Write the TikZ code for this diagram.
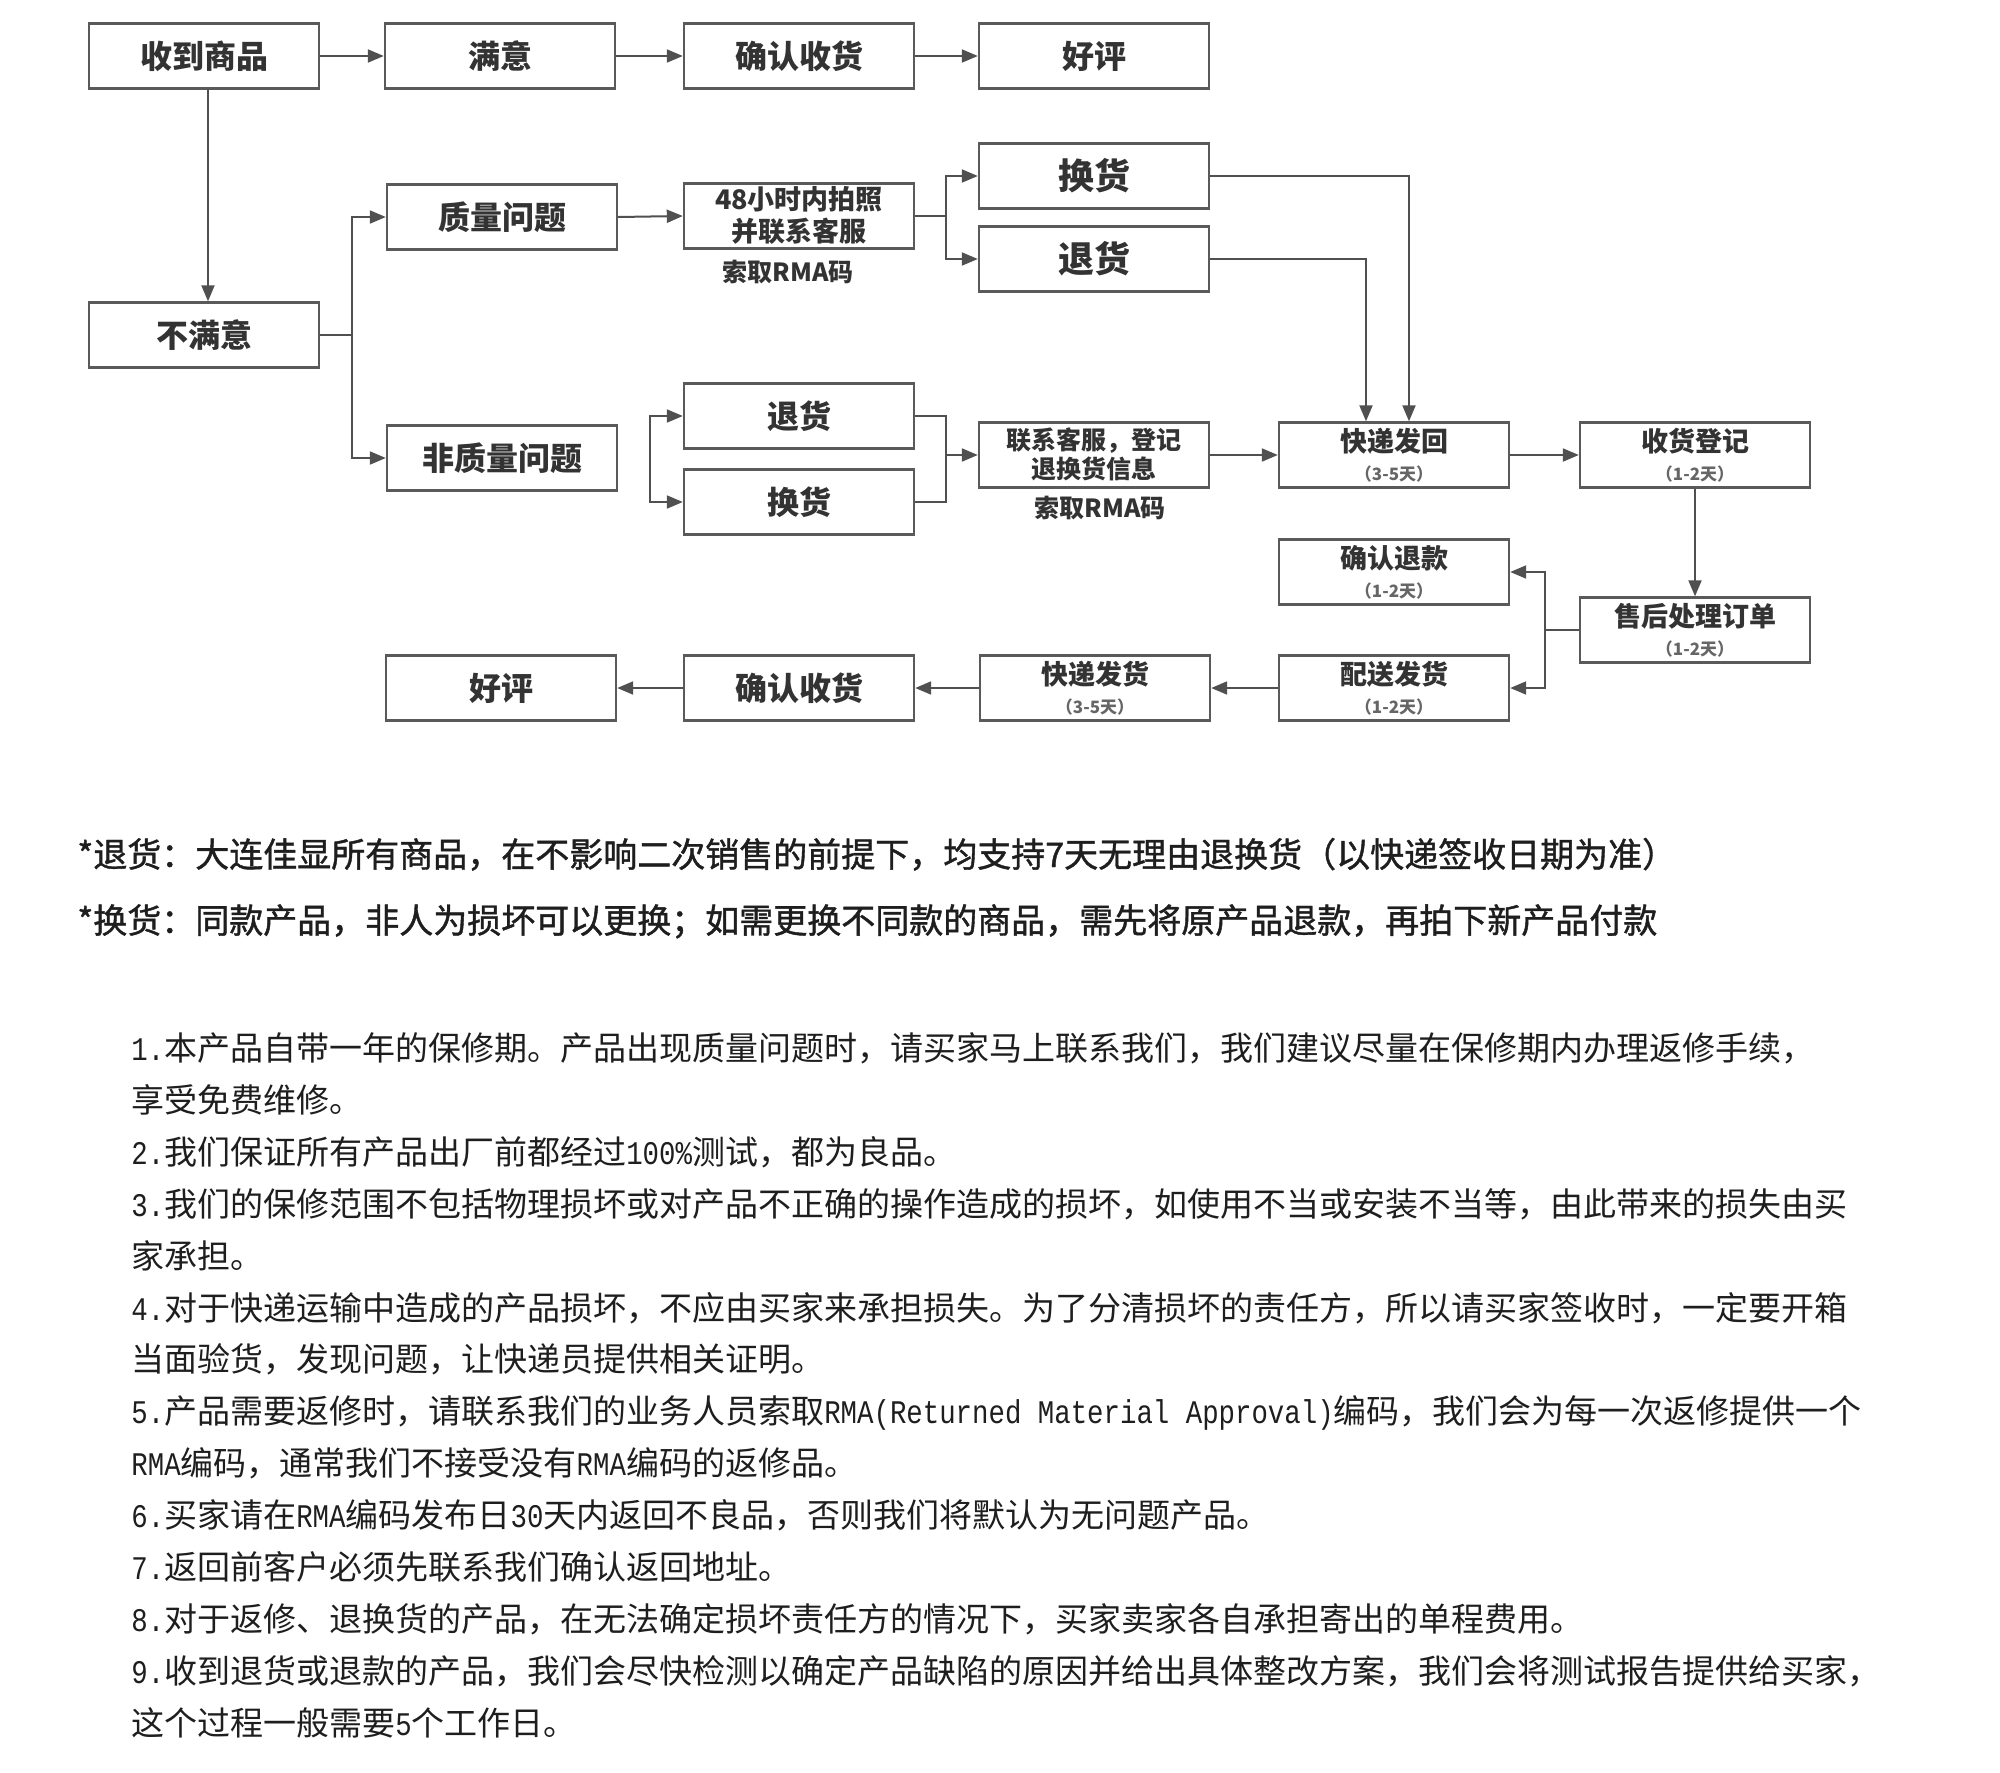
\documentclass[tikz,border=0pt]{standalone}
\usepackage{fontspec}
\setmainfont{Noto Sans CJK SC}
\newfontfamily\hei{Noto Sans CJK SC}
\newfontfamily\heim{Noto Sans CJK SC}[FakeBold=1.2]
\newfontfamily\latm{Liberation Mono}[FakeStretch=0.83]
\newcommand\ltn[1]{{\latm #1}}
\usetikzlibrary{arrows.meta}
\definecolor{bxcol}{HTML}{5A5A5A}
\definecolor{txcol}{HTML}{333333}
\definecolor{lncol}{HTML}{505050}
\definecolor{dycol}{HTML}{666666}
\definecolor{bodycol}{HTML}{1E1E1E}
\begin{document}
\begin{tikzpicture}[x=0.5pt,y=-0.5pt,
  box/.style={draw=bxcol, line width=1.2pt, minimum width=115pt, minimum height=32.5pt, inner sep=0pt, text=txcol, font=\hei\bfseries\fontsize{16pt}{18pt}\selectfont},
  bigbox/.style={box, font=\hei\bfseries\fontsize{18pt}{20pt}\selectfont},
  ttl/.style={inner sep=0pt, text=txcol, font=\hei\bfseries\fontsize{13.5pt}{15pt}\selectfont},
  smt/.style={inner sep=0pt, text=txcol, font=\hei\bfseries\fontsize{12.5pt}{14pt}\selectfont},
  dys/.style={inner sep=0pt, text=dycol, font=\hei\bfseries\fontsize{8.5pt}{10pt}\selectfont},
  wire/.style={draw=lncol, line width=1pt},
  arr/.style={wire, -{Triangle[length=8pt,width=6.5pt]}},
  star/.style={inner sep=0pt, anchor=base west, text=bodycol, font=\heim\fontsize{17pt}{20pt}\selectfont},
  body/.style={inner sep=0pt, anchor=base west, text=bodycol, font=\hei\fontsize{16.5pt}{20pt}\selectfont},
]
\fill[white] (0,0) rectangle (2000,1772);
\useasboundingbox (0,0) rectangle (2000,1772);

% ---------- boxes ----------
\node[box] (r1) at (204,56) {收到商品};
\node[box] (sat) at (500,56) {满意};
\node[box] (cf1) at (799,56) {确认收货};
\node[box] (gd1) at (1094,56) {\raisebox{-2pt}{好评}};
\node[box] (dis) at (204,335) {不满意};
\node[box] (qp) at (502,217) {质量问题};
\node[box] (p48) at (799,216) {};
\node[bigbox] (ex1) at (1094,176) {换货};
\node[bigbox] (rt1) at (1094,259) {退货};
\node[box] (nq) at (502,458) {非质量问题};
\node[box] (rt2) at (799,416) {退货};
\node[box] (ex2) at (799,502) {换货};
\node[box] (ct) at (1094,455) {};
\node[box] (bk) at (1394,455) {};
\node[box] (rg) at (1695,455) {};
\node[box] (rf) at (1394,572) {};
\node[box] (af) at (1695,630) {};
\node[box] (dl) at (1394,688) {};
\node[box] (sh) at (1095,688) {};
\node[box] (cf2) at (799,688) {确认收货};
\node[box] (gd2) at (501,688) {好评};

% ---------- texts inside boxes ----------
\node[ttl] (p48a) at (799,199) {48小时内拍照};
\node[ttl] (p48b) at (799,231) {并联系客服};
\node[smt] (cta) at (1094,441) {联系客服，登记};
\node[smt] (ctb) at (1094,469) {退换货信息};
\node[ttl] (bkT) at (1394,441) {快递发回};
\node[dys] (bkD) at (1394,474) {（3-5天）};
\node[ttl] (rgT) at (1695,441) {收货登记};
\node[dys] (rgD) at (1695,474) {（1-2天）};
\node[ttl] (rfT) at (1394,558) {确认退款};
\node[dys] (rfD) at (1394,591) {（1-2天）};
\node[ttl] (afT) at (1695,616) {售后处理订单};
\node[dys] (afD) at (1695,649) {（1-2天）};
\node[ttl] (dlT) at (1394,674) {配送发货};
\node[dys] (dlD) at (1394,707) {（1-2天）};
\node[ttl] (shT) at (1095,674) {快递发货};
\node[dys] (shD) at (1095,707) {（3-5天）};
\node[smt] (rma1) at (788,272) {索取RMA码};
\node[smt] (rma2) at (1100,508) {索取RMA码};

% ---------- junction points ----------
\coordinate (j1) at (352,335);
\coordinate (j2) at (946,216);
\coordinate (j3) at (650,459);
\coordinate (j4) at (946,455);
\coordinate (j5) at (1545,630);

% ---------- connectors ----------
\draw[arr] (r1.east) -- (sat.west);
\draw[arr] (sat.east) -- (cf1.west);
\draw[arr] (cf1.east) -- (gd1.west);
\draw[arr] ([xshift=2pt]r1.south) -- ([xshift=2pt]dis.north);
\draw[wire] (dis.east) -- (j1);
\draw[arr] (j1) |- (qp.west);
\draw[arr] (j1) |- (nq.west);
\draw[arr] (qp.east) -- (p48.west);
\draw[wire] (p48.east) -- (j2);
\draw[arr] (j2) |- (ex1.west);
\draw[arr] (j2) |- (rt1.west);
\draw[arr] (ex1.east) -| ([xshift=7.5pt]bk.north);
\draw[arr] (rt1.east) -| ([xshift=-14pt]bk.north);
\draw[arr] (j3) |- (rt2.west);
\draw[arr] (j3) |- (ex2.west);
\draw[wire] (rt2.east) -| (j4) |- (ex2.east);
\draw[arr] (j4) -- (ct.west);
\draw[arr] (ct.east) -- (bk.west);
\draw[arr] (bk.east) -- (rg.west);
\draw[arr] (rg.south) -- (af.north);
\draw[wire] (af.west) -- (j5);
\draw[arr] (j5) |- (rf.east);
\draw[arr] (j5) |- (dl.east);
\draw[arr] (dl.west) -- (sh.east);
\draw[arr] (sh.west) -- (cf2.east);
\draw[arr] (cf2.west) -- (gd2.east);

% ---------- notes ----------
\node[star] (s1) at (77,867) {*退货：大连佳显所有商品，在不影响二次销售的前提下，均支持7天无理由退换货（以快递签收日期为准）};
\node[star] (s2) at (77,933) {*换货：同款产品，非人为损坏可以更换；如需更换不同款的商品，需先将原产品退款，再拍下新产品付款};

\node[body] (l1a) at (131,1060.5) {\ltn{1.}本产品自带一年的保修期。产品出现质量问题时，请买家马上联系我们，我们建议尽量在保修期内办理返修手续，};
\node[body] (l1b) at (131,1112.4) {享受免费维修。};
\node[body] (l2) at (131,1164.3) {\ltn{2.}我们保证所有产品出厂前都经过\ltn{100\%}测试，都为良品。};
\node[body] (l3a) at (131,1216.2) {\ltn{3.}我们的保修范围不包括物理损坏或对产品不正确的操作造成的损坏，如使用不当或安装不当等，由此带来的损失由买};
\node[body] (l3b) at (131,1268.1) {家承担。};
\node[body] (l4a) at (131,1320) {\ltn{4.}对于快递运输中造成的产品损坏，不应由买家来承担损失。为了分清损坏的责任方，所以请买家签收时，一定要开箱};
\node[body] (l4b) at (131,1371.9) {当面验货，发现问题，让快递员提供相关证明。};
\node[body] (l5a) at (131,1423.8) {\ltn{5.}产品需要返修时，请联系我们的业务人员索取\ltn{RMA(Returned Material Approval)}编码，我们会为每一次返修提供一个};
\node[body] (l5b) at (131,1475.7) {\ltn{RMA}编码，通常我们不接受没有\ltn{RMA}编码的返修品。};
\node[body] (l6) at (131,1527.6) {\ltn{6.}买家请在\ltn{RMA}编码发布日\ltn{30}天内返回不良品，否则我们将默认为无问题产品。};
\node[body] (l7) at (131,1579.5) {\ltn{7.}返回前客户必须先联系我们确认返回地址。};
\node[body] (l8) at (131,1631.4) {\ltn{8.}对于返修、退换货的产品，在无法确定损坏责任方的情况下，买家卖家各自承担寄出的单程费用。};
\node[body] (l9a) at (131,1683.3) {\ltn{9.}收到退货或退款的产品，我们会尽快检测以确定产品缺陷的原因并给出具体整改方案，我们会将测试报告提供给买家，};
\node[body] (l9b) at (131,1735.2) {这个过程一般需要\ltn{5}个工作日。};
\end{tikzpicture}
\end{document}
